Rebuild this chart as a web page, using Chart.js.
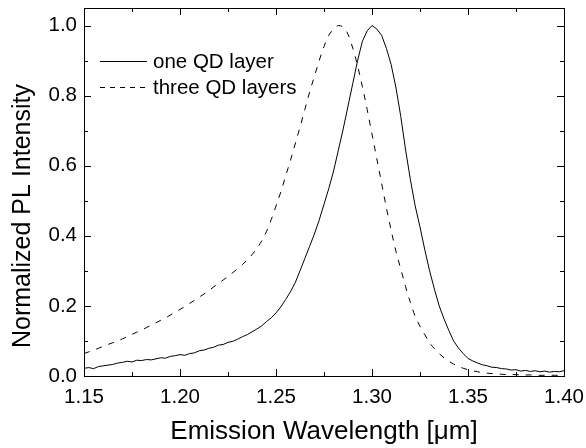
<!DOCTYPE html>
<html>
<head>
<meta charset="utf-8">
<script src="https://cdn.jsdelivr.net/npm/chart.js@4.4.1/dist/chart.umd.min.js"></script>
<style>
  body { margin: 0; background: #fff; }
  #wrap { width: 586px; height: 448px; }
</style>
</head>
<body>
<div id="wrap"><canvas id="plChart"></canvas></div>
<script>
// emission wavelength in um (step 0.0025)
var wavelength = [
  1.1500, 1.1525, 1.1550, 1.1575, 1.1600, 1.1625, 1.1650, 1.1675, 1.1700, 1.1725,
  1.1750, 1.1775, 1.1800, 1.1825, 1.1850, 1.1875, 1.1900, 1.1925, 1.1950, 1.1975,
  1.2000, 1.2025, 1.2050, 1.2075, 1.2100, 1.2125, 1.2150, 1.2175, 1.2200, 1.2225,
  1.2250, 1.2275, 1.2300, 1.2325, 1.2350, 1.2375, 1.2400, 1.2425, 1.2450, 1.2475,
  1.2500, 1.2525, 1.2550, 1.2575, 1.2600, 1.2625, 1.2650, 1.2675, 1.2700, 1.2725,
  1.2750, 1.2775, 1.2800, 1.2825, 1.2850, 1.2875, 1.2900, 1.2925, 1.2950, 1.2975,
  1.3000, 1.3025, 1.3050, 1.3075, 1.3100, 1.3125, 1.3150, 1.3175, 1.3200, 1.3225,
  1.3250, 1.3275, 1.3300, 1.3325, 1.3350, 1.3375, 1.3400, 1.3425, 1.3450, 1.3475,
  1.3500, 1.3525, 1.3550, 1.3575, 1.3600, 1.3625, 1.3650, 1.3675, 1.3700, 1.3725,
  1.3750, 1.3775, 1.3800, 1.3825, 1.3850, 1.3875, 1.3900, 1.3925, 1.3950, 1.3975,
  1.4000
];

var oneLayer = [
  0.022, 0.024, 0.021, 0.027, 0.029, 0.031, 0.033, 0.037, 0.039, 0.042,
  0.040, 0.045, 0.044, 0.047, 0.046, 0.049, 0.052, 0.051, 0.056, 0.058,
  0.061, 0.059, 0.064, 0.066, 0.072, 0.074, 0.079, 0.082, 0.088, 0.090,
  0.096, 0.099, 0.105, 0.112, 0.118, 0.126, 0.134, 0.143, 0.155, 0.166,
  0.180, 0.197, 0.218, 0.240, 0.266, 0.300, 0.335, 0.370, 0.405, 0.445,
  0.490, 0.535, 0.585, 0.645, 0.705, 0.770, 0.835, 0.900, 0.955, 0.985,
  1.000, 0.990, 0.972, 0.935, 0.888, 0.822, 0.740, 0.645, 0.560, 0.485,
  0.425, 0.360, 0.300, 0.248, 0.200, 0.163, 0.130, 0.100, 0.080, 0.064,
  0.050, 0.043, 0.037, 0.032, 0.029, 0.025, 0.024, 0.021, 0.020, 0.017,
  0.018, 0.014, 0.016, 0.013, 0.015, 0.012, 0.014, 0.011, 0.013, 0.012,
  0.015
];

var threeLayers = [
  0.064, 0.069, 0.074, 0.079, 0.085, 0.090, 0.095, 0.100, 0.106, 0.112,
  0.119, 0.125, 0.131, 0.138, 0.145, 0.152, 0.159, 0.166, 0.174, 0.182,
  0.190, 0.198, 0.207, 0.216, 0.225, 0.234, 0.244, 0.254, 0.264, 0.274,
  0.284, 0.295, 0.306, 0.318, 0.331, 0.346, 0.364, 0.385, 0.412, 0.446,
  0.485, 0.525, 0.570, 0.615, 0.662, 0.710, 0.760, 0.810, 0.855, 0.900,
  0.940, 0.972, 0.990, 1.000, 0.995, 0.975, 0.935, 0.885, 0.825, 0.760,
  0.690, 0.620, 0.550, 0.480, 0.415, 0.355, 0.305, 0.255, 0.210, 0.170,
  0.142, 0.118, 0.095, 0.078, 0.064, 0.052, 0.042, 0.034, 0.028, 0.022,
  0.018, 0.015, 0.012, 0.010, 0.008, 0.007, 0.006, 0.005, 0.004, 0.004,
  0.004, 0.003, 0.003, 0.003, 0.003, 0.002, 0.002, 0.002, 0.002, 0.002,
  0.002
];

var seriesNames = ['one QD layer', 'three QD layers'];
var xTitle = 'Emission Wavelength [\u03bcm]';
var yTitle = 'Normalized PL Intensity';

var FONT = "'Liberation Sans', Arial, sans-serif";

function points(ys) {
  return wavelength.map(function (w, i) { return {x: w, y: ys[i]}; });
}

// box round the plot with inward ticks on all four sides
var frameTicks = {
  id: 'frameTicks',
  afterDatasetsDraw: function (chart) {
    var ctx = chart.ctx, a = chart.chartArea;
    var xs = chart.scales.x, ys = chart.scales.y;
    ctx.save();
    ctx.strokeStyle = '#000';
    ctx.lineWidth = 1;
    ctx.setLineDash([]);
    ctx.strokeRect(Math.round(a.left) + 0.5, Math.round(a.top) + 0.5,
      Math.round(a.right - a.left), Math.round(a.bottom - a.top));

    function marks(scale) {
      var t = scale.ticks.map(function (k) { return k.value; });
      var out = [];
      for (var i = 0; i < t.length; i++) {
        out.push([t[i], 7]);
        if (i < t.length - 1) out.push([(t[i] + t[i + 1]) / 2, 4]);
      }
      return out;
    }
    ctx.beginPath();
    marks(xs).forEach(function (m) {
      var px = Math.round(xs.getPixelForValue(m[0])) + 0.5;
      ctx.moveTo(px, a.bottom); ctx.lineTo(px, a.bottom - m[1]);
      ctx.moveTo(px, a.top); ctx.lineTo(px, a.top + m[1]);
    });
    marks(ys).forEach(function (m) {
      var py = Math.round(ys.getPixelForValue(m[0])) + 0.5;
      ctx.moveTo(a.left, py); ctx.lineTo(a.left + m[1], py);
      ctx.moveTo(a.right, py); ctx.lineTo(a.right - m[1], py);
    });
    ctx.stroke();
    ctx.restore();
  }
};

// legend inside the plot, upper left
var insideLegend = {
  id: 'insideLegend',
  afterDatasetsDraw: function (chart) {
    var ctx = chart.ctx;
    ctx.save();
    ctx.font = '20.5px ' + FONT;
    ctx.fillStyle = '#000';
    ctx.textBaseline = 'alphabetic';
    chart.data.datasets.forEach(function (ds, i) {
      var y = 61 + i * 26;
      ctx.beginPath();
      ctx.strokeStyle = '#000';
      ctx.lineWidth = 1;
      ctx.setLineDash(ds.borderDash ? [5, 5] : []);
      ctx.moveTo(100, y + 0.5);
      ctx.lineTo(147, y + 0.5);
      ctx.stroke();
      ctx.fillText(ds.label, 153, y + 7);
    });
    ctx.restore();
  }
};

// y title, centred a bit below the plot middle as in the figure
var yTitlePlugin = {
  id: 'yTitlePlugin',
  afterDraw: function (chart) {
    var ctx = chart.ctx;
    ctx.save();
    ctx.translate(23, 216);
    ctx.rotate(-Math.PI / 2);
    ctx.font = '25px ' + FONT;
    ctx.fillStyle = '#000';
    ctx.textAlign = 'center';
    ctx.textBaseline = 'middle';
    ctx.fillText(yTitle, 0, 0);
    ctx.restore();
  }
};

var ctx = document.getElementById('plChart').getContext('2d');
var myChart = new Chart(ctx, {
  type: 'line',
  data: {
    datasets: [{
      label: seriesNames[0],
      data: points(oneLayer),
      borderColor: '#000',
      borderWidth: 1,
      pointRadius: 0,
      tension: 0,
      fill: false
    }, {
      label: seriesNames[1],
      data: points(threeLayers),
      borderColor: '#000',
      borderWidth: 1,
      borderDash: [6, 7],
      pointRadius: 0,
      cubicInterpolationMode: 'monotone',
      fill: false
    }]
  },
  options: {
    responsive: true,
    maintainAspectRatio: false,
    animation: false,
    events: [],
    layout: { padding: { left: 0, right: 22, top: 8, bottom: 0 } },
    plugins: {
      legend: { display: false },
      tooltip: { enabled: false }
    },
    scales: {
      x: {
        type: 'linear',
        min: 1.15,
        max: 1.40,
        grid: { display: false, drawTicks: false },
        border: { display: false },
        ticks: {
          stepSize: 0.05,
          includeBounds: false,
          padding: 9,
          color: '#000',
          font: { family: FONT, size: 20.5 },
          maxRotation: 0,
          callback: function (v) { return v.toFixed(2); }
        },
        title: {
          display: true,
          text: xTitle,
          color: '#000',
          font: { family: FONT, size: 26 },
          padding: { top: 0, bottom: 1 }
        },
        afterFit: function (s) { s.height = 72; s.paddingLeft = 0; s.paddingRight = 0; }
      },
      y: {
        min: 0,
        max: 1.05,
        grid: { display: false, drawTicks: false },
        border: { display: false },
        ticks: {
          stepSize: 0.2,
          includeBounds: false,
          padding: 7,
          color: '#000',
          font: { family: FONT, size: 20.5 },
          callback: function (v) { return v.toFixed(1); }
        },
        afterFit: function (s) { s.width = 84; s.paddingTop = 0; s.paddingBottom = 0; }
      }
    }
  },
  plugins: [frameTicks, insideLegend, yTitlePlugin]
});
</script>
</body>
</html>
